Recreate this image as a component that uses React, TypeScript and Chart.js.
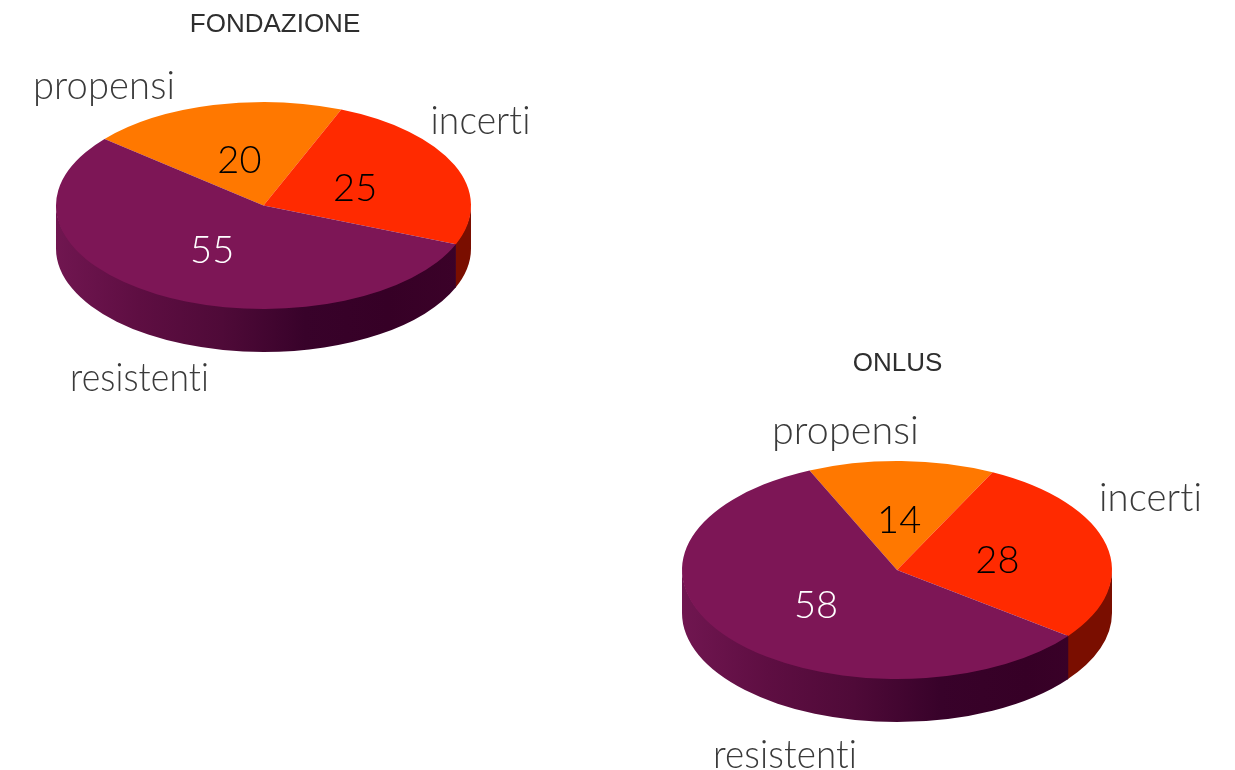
import React, { useEffect, useRef } from "react";
import { Chart, registerables } from "chart.js";

Chart.register(...registerables);

const categories = ["propensi", "incerti", "resistenti"];
const fondazioneValues = [20, 25, 55];
const onlusValues = [14, 28, 58];
const sliceColors = ["#ff7800", "#ff2a00", "#7d1656"];
const valueColors = ["#000000", "#000000", "#ffffff"];
const wallColors = ["#8a4400", "#7a0e00", ""];
const wallShades = ["#701650", "#5e0e42", "#4f0a38", "#38022a", "#360026", "#3c0229"];

const CANVAS_W = 1235;
const CANVAS_H = 770;
const MID_Y = CANVAS_H / 2;
const VALUE_FONT = "300 38px Lato, sans-serif";
const TITLE_FONT = "26px 'Liberation Sans', Arial, sans-serif";

type PieLayout = {
  title: string;
  titleAt: number[];
  values: number[];
  rotation: number;
  cx: number;
  cy: number;
  rx: number;
  ry: number;
  depth: number;
  labelSize: number;
  labelAt: number[][];
  labelWidths: number[];
};

const fondazione: PieLayout = {
  title: "FONDAZIONE",
  titleAt: [275, 25],
  values: fondazioneValues,
  rotation: -50,
  cx: 263.5,
  cy: 205.5,
  rx: 207.5,
  ry: 103.5,
  depth: 43,
  labelSize: 38.5,
  labelAt: [[104, 87], [480.5, 122], [139.5, 379]],
  labelWidths: [142, 100, 139],
};

const onlus: PieLayout = {
  title: "ONLUS",
  titleAt: [897.5, 364],
  values: onlusValues,
  rotation: -24,
  cx: 897,
  cy: 570,
  rx: 215,
  ry: 109,
  depth: 43,
  labelSize: 40,
  labelAt: [[845.5, 431], [1150.5, 498], [785, 755]],
  labelWidths: [147, 103, 144],
};

// Flattens the pie into an ellipse, adds the extruded rim below it and writes the text on top.
const tiltedPie = {
  id: "tiltedPie",
  beforeDatasetsDraw(chart: any, _args: any, opts: PieLayout) {
    const { ctx } = chart;
    const { cx, cy, rx, ry, depth } = opts;
    const TWO_PI = Math.PI * 2;
    chart.getDatasetMeta(0).data.forEach((arc: any, i: number) => {
      const { startAngle, endAngle } = arc.getProps(["startAngle", "endAngle"], true);
      for (let k = -1; k <= 1; k++) {
        const s = Math.max(startAngle, k * TWO_PI);
        // A sliver of overlap hides the seam where two rim pieces meet.
        const e = Math.min(endAngle + 0.01, k * TWO_PI + Math.PI);
        if (e <= s) continue;
        ctx.beginPath();
        // The upper edge sits slightly higher, under the top face, so no pale line shows along it.
        ctx.ellipse(cx, cy - 1.5, rx, ry, 0, s, e);
        ctx.ellipse(cx, cy + depth, rx, ry, 0, e, s, true);
        ctx.closePath();
        if (wallColors[i]) {
          ctx.fillStyle = wallColors[i];
        } else {
          const g = ctx.createLinearGradient(cx - rx, 0, cx + rx, 0);
          wallShades.forEach((c, n) => g.addColorStop(n / (wallShades.length - 1), c));
          ctx.fillStyle = g;
        }
        ctx.fill();
      }
    });
    ctx.save();
    ctx.translate(0, cy);
    ctx.scale(1, ry / rx);
    ctx.translate(0, -MID_Y);
  },
  afterDatasetsDraw(chart: any, _args: any, opts: PieLayout) {
    const { ctx } = chart;
    ctx.restore();
    const { cx, cy, rx, ry } = opts;
    ctx.save();
    ctx.textAlign = "center";
    ctx.textBaseline = "middle";

    ctx.font = TITLE_FONT;
    ctx.fillStyle = "#2e2e2e";
    ctx.fillText(opts.title, opts.titleAt[0], opts.titleAt[1]);

    ctx.letterSpacing = "0.1px";
    ctx.font = `300 ${opts.labelSize}px Lato, sans-serif`;
    ctx.fillStyle = "#3a3a3a";
    categories.forEach((name, i) => {
      ctx.fillText(name, opts.labelAt[i][0], opts.labelAt[i][1], opts.labelWidths[i]);
    });

    ctx.font = VALUE_FONT;
    chart.getDatasetMeta(0).data.forEach((arc: any, i: number) => {
      const { startAngle, endAngle } = arc.getProps(["startAngle", "endAngle"], true);
      const mid = (startAngle + endAngle) / 2;
      ctx.fillStyle = valueColors[i];
      ctx.fillText(
        String(opts.values[i]),
        cx + Math.cos(mid) * rx * 0.48,
        cy + Math.sin(mid) * ry * 0.48 + 3
      );
    });
    ctx.restore();
  },
};

function TiltedPie({ layout }: { layout: PieLayout }) {
  const ref = useRef<HTMLCanvasElement>(null);
  useEffect(() => {
    const { cx, rx } = layout;
    const chart = new Chart(ref.current!, {
      type: "pie",
      data: {
        labels: categories,
        datasets: [
          {
            data: layout.values,
            backgroundColor: sliceColors,
            borderWidth: 0,
            clip: false,
          } as any,
        ],
      },
      options: {
        animation: false,
        responsive: false,
        rotation: layout.rotation,
        layout: {
          padding: {
            left: cx - rx,
            right: CANVAS_W - cx - rx,
            top: MID_Y - rx,
            bottom: MID_Y - rx,
          },
        },
        plugins: {
          legend: { display: false },
          tooltip: { enabled: false },
          tiltedPie: layout,
        } as any,
      },
      plugins: [tiltedPie],
    });
    return () => chart.destroy();
  }, [layout]);
  return (
    <canvas
      ref={ref}
      width={CANVAS_W}
      height={CANVAS_H}
      style={{ position: "absolute", left: 0, top: 0 }}
    />
  );
}

export default function App() {
  return (
    <div style={{ position: "absolute", left: 0, top: 0, width: CANVAS_W, height: CANVAS_H, background: "#fff", overflow: "hidden" }}>
      <TiltedPie layout={fondazione} />
      <TiltedPie layout={onlus} />
    </div>
  );
}
